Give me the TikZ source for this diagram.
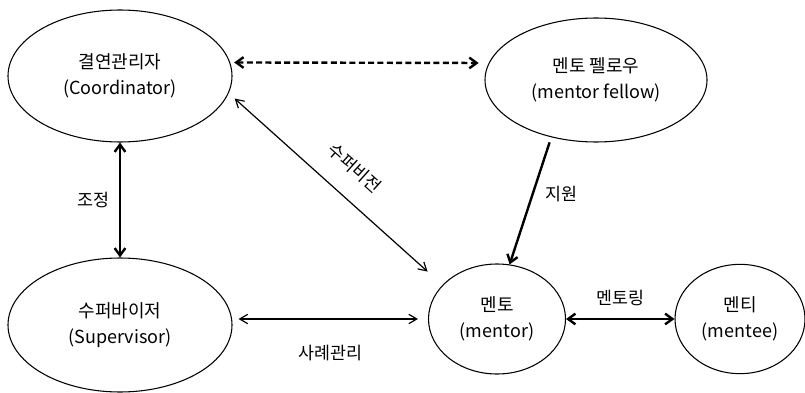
\documentclass[tikz,border=0pt]{standalone}
\usepackage{fontspec}
\setmainfont{Noto Sans CJK KR}
\usetikzlibrary{shapes.geometric,arrows.meta}
\begin{document}
\begin{tikzpicture}[x=0.75pt,y=-0.75pt,
  role/.style={ellipse,draw,line width=0.8pt,inner sep=0pt,align=center,
    font=\fontsize{13.5}{19.5}\selectfont},
  thinlink/.style={line width=0.9pt,{Straight Barb[length=6pt,width=7pt]}-{Straight Barb[length=6pt,width=7pt]}},
  thicklink/.style={line width=1.8pt,{Straight Barb[length=5.5pt,width=8pt]}-{Straight Barb[length=5.5pt,width=8pt]}},
  onelink/.style={line width=1.8pt,-{Straight Barb[length=5.5pt,width=8pt]}},
  dashlink/.style={thicklink,dash pattern=on 4.5pt off 2.5pt},
  lbl/.style={font=\fontsize{13}{15}\selectfont,inner sep=1pt}]
\useasboundingbox (0,0) rectangle (805,392);

% roles
\node[role,minimum width=168pt,minimum height=99pt] (coord) at (120,76)
  {결연관리자\\(Coordinator)};
\node[role,minimum width=166.5pt,minimum height=93pt] (fellow) at (596,80)
  {멘토 펠로우\\(mentor fellow)};
\node[role,minimum width=168pt,minimum height=100.5pt] (super) at (120,325)
  {수퍼바이저\\(Supervisor)};
\node[role,minimum width=102.75pt,minimum height=82.5pt] (mentor) at (497,319)
  {멘토\\(mentor)};
\node[role,minimum width=97.5pt,minimum height=82pt] (mentee) at (740,319)
  {멘티\\(mentee)};

% relations
\draw[dashlink,shorten <=3pt,shorten >=7.5pt] (coord.7) -- (fellow.171);
\draw[thinlink,shorten <=6pt,shorten >=15pt] (coord.-9) -- (mentor.148)
  node[lbl,pos=0.5,sloped,above=14pt] {수퍼비전};
\draw[thicklink] (coord.south) -- (super.north)
  node[lbl,midway,left=6pt] {조정};
\draw[thinlink,shorten <=4.5pt,shorten >=7.5pt] (super.east |- mentor.west) -- (mentor.west)
  node[lbl,midway,below=18pt] {사례관리};
\draw[onelink,shorten <=4pt] (fellow.232) -- (mentor.77)
  node[lbl,pos=0.45,right=8pt] {지원};
\draw[thicklink] (mentor.east) -- (mentee.west)
  node[lbl,midway,above=8pt] {멘토링};
\end{tikzpicture}
\end{document}
